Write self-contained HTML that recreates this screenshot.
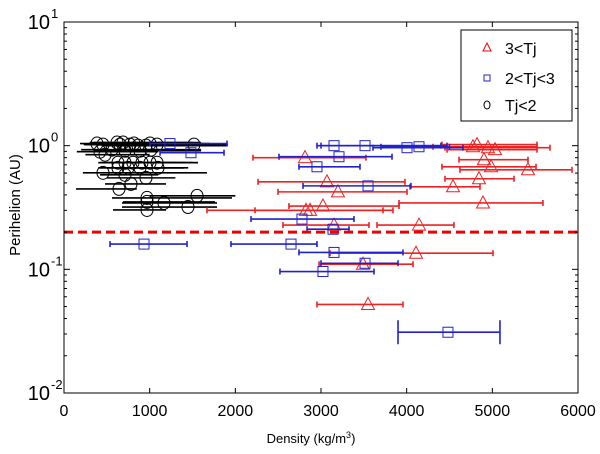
<!DOCTYPE html>
<html><head><meta charset="utf-8"><style>
body{margin:0;background:#fff;}
svg{display:block;font-family:"Liberation Sans",sans-serif;}
</style></head><body>
<svg id="chart" width="600" height="454">
<rect x="0" y="0" width="600" height="454" fill="#fff"/>
<g id="marks"></g>
<g id="axes"></g>
<g id="legend">
<rect x="461" y="30" width="111" height="91" fill="#fff" stroke="#000" stroke-width="1"/>
<g><polygon points="487,43 483,51 491,51" fill="none" stroke="#e00" stroke-width="1"/><text x="505" y="54" font-size="16">3&lt;Tj</text></g>
<g><rect x="484" y="75" width="6" height="6" fill="none" stroke="#22c" stroke-width="1"/><text x="505" y="84" font-size="16">2&lt;Tj&lt;3</text></g>
<g><ellipse cx="487" cy="105" rx="3" ry="4" fill="none" stroke="#000" stroke-width="1"/><text x="505" y="111" font-size="16">Tj&lt;2</text></g>
</g>
<text x="311" y="443" font-size="13" text-anchor="middle">Density (kg/m<tspan dy="-5" font-size="9">3</tspan><tspan dy="5">)</tspan></text>
<text transform="translate(20,205) rotate(-90)" font-size="15" text-anchor="middle">Perihelion (AU)</text>
</svg>
<script>
// Red: 3<Tj
const redDensity=[4774,4821,4949,5031,4902,4985,5416,4844,4541,4891,4144,2813,3070,3198,3023,2825,2872,3152,4109,3490,3549];
const redPeri=[0.98,1.02,0.963,0.928,0.77,0.675,0.638,0.54,0.465,0.344,0.228,0.8,0.51,0.423,0.325,0.30,0.30,0.228,0.135,0.11,0.052];
const redLo=[4307,4412,4447,4471,4611,4412,4622,4447,4039,3911,3654,2206,2265,2498,2626,1669,2230,2556,3105,2977,2953];
const redHi=[5521,5521,5673,5521,5416,5510,5930,5253,4856,5591,4552,3525,3980,4004,3911,3724,3840,3560,5008,4074,3957];
// Blue: 2<Tj<3
const blueDensity=[4482,934,2650,3152,3514,3023,3140,2778,3152,3514,4004,4144,3210,2953,3549,1237,1482];
const bluePeri=[0.031,0.16,0.16,0.137,0.112,0.096,0.211,0.255,1.0,1.0,0.963,0.98,0.814,0.675,0.473,1.04,0.877];
const blueLo=[3899,537,1949,2743,3000,2521,2837,2183,2953,3000,3607,3700,2510,2743,2790,1004,1121];
const blueHi=[5089,1436,2953,3957,3899,3619,3327,3385,4471,4400,4657,4500,3829,3455,4050,1903,1868];
// Black: Tj<2
const blackDensity=[385,455,619,654,689,770,817,864,957,1004,1086,1517,420,560,712,887,1016,479,630,712,805,910,1004,1086,630,747,887,1097,455,712,957,782,642,969,969,1167,1553,1447,969];
const blackPeri=[1.04,1.02,1.06,1.02,1.06,1.02,1.04,1.0,1.0,1.04,1.02,1.02,0.894,0.928,0.91,0.91,0.928,0.845,0.728,0.728,0.728,0.728,0.728,0.728,0.662,0.662,0.662,0.662,0.603,0.581,0.549,0.49,0.447,0.378,0.351,0.344,0.393,0.319,0.302];
const blackLo=[187,230,300,250,350,400,300,450,500,550,600,900,150,200,350,500,600,250,420,420,400,500,600,650,420,400,500,700,220,420,500,479,140,560,689,677,1000,677,572];
const blackHi=[1100,1300,1500,1400,1600,1700,1500,1800,1900,1700,1800,1914,1100,1300,1500,1600,1600,1000,1564,1564,1300,1400,1500,1500,1400,1200,1450,1400,1669,1100,1300,1191,850,1961,1763,1786,2000,1786,1191];
const xTicks=[0,1000,2000,3000,4000,5000,6000];
const yDecades=[-2,-1,0,1];
const threshold=0.2;

const L=64,R=578,T=22,B=393;
function xs(v){return L+v*(R-L)/6000;}
function ys(p){return B-(Math.log10(p)+2)*(B-T)/3;}
const NS="http://www.w3.org/2000/svg";
const marks=document.getElementById('marks');
const axes=document.getElementById('axes');
function mk(tag,attrs,parent){const e=document.createElementNS(NS,tag);for(const k in attrs)e.setAttribute(k,attrs[k]);parent.appendChild(e);return e;}

function series(d,p,lo,hi,color,shape,name,cap){
  const g=mk('g',{},marks);
  
  
  for(let i=0;i<d.length;i++){
    const y=ys(p[i]);
    const eb=mk('g',{stroke:color,'stroke-width':1.6,fill:'none'},g);
    
    
    mk('line',{x1:xs(lo[i]),x2:xs(hi[i]),y1:y,y2:y},eb);
    const c=(cap&&p[i]<0.05)?12:3;
    if(cap){mk('line',{x1:xs(lo[i]),x2:xs(lo[i]),y1:y-c,y2:y+c},eb);mk('line',{x1:xs(hi[i]),x2:xs(hi[i]),y1:y-c,y2:y+c},eb);}
  }
  for(let i=0;i<d.length;i++){
    const x=xs(d[i]),y=ys(p[i]);let m;
    if(shape==='tri')m=mk('polygon',{points:`${x},${y-7} ${x-6.5},${y+5} ${x+6.5},${y+5}`,fill:'none',stroke:color,'stroke-width':1},g);
    else if(shape==='sq')m=mk('rect',{x:x-5,y:y-5,width:10,height:10,fill:'none',stroke:color,'stroke-width':1},g);
    else m=mk('ellipse',{cx:x,cy:y,rx:6,ry:6.5,fill:'none',stroke:color,'stroke-width':1},g);
    
    
  }
}
series(blackDensity,blackPeri,blackLo,blackHi,'#000','circ','tj-lt-2',false);
series(redDensity,redPeri,redLo,redHi,'#e22','tri','tj-gt-3',true);
series(blueDensity,bluePeri,blueLo,blueHi,'#22c','sq','tj-2-3',true);

const th=mk('line',{x1:L,x2:R,y1:ys(threshold),y2:ys(threshold),stroke:'#e00','stroke-width':3,'stroke-dasharray':'9,5'},marks);



const frame=mk('rect',{x:L,y:T,width:R-L,height:B-T,fill:'none',stroke:'#000','stroke-width':1},axes);


xTicks.forEach(v=>{
  const x=xs(v);
  mk('line',{x1:x,x2:x,y1:B,y2:B-5,stroke:'#000'},axes);
  mk('line',{x1:x,x2:x,y1:T,y2:T+5,stroke:'#000'},axes);
  const t=mk('text',{x:x,y:416,'font-size':16,'text-anchor':'middle'},axes);
  t.textContent=v;
  
  
});
yDecades.forEach(k=>{
  const y=ys(Math.pow(10,k));
  mk('line',{x1:L,x2:L+6,y1:y,y2:y,stroke:'#000'},axes);
  mk('line',{x1:R,x2:R-6,y1:y,y2:y,stroke:'#000'},axes);
  if(k<1){for(let m=2;m<10;m++){const yy=ys(m*Math.pow(10,k));mk('line',{x1:L,x2:L+3,y1:yy,y2:yy,stroke:'#000'},axes);mk('line',{x1:R,x2:R-3,y1:yy,y2:yy,stroke:'#000'},axes);}}
  const t=mk('text',{x:50,y:y+7,'font-size':20,'text-anchor':'end'},axes);
  t.textContent='10';
  
  
  const s=mk('text',{x:51,y:y-4,'font-size':13},axes);
  s.textContent=String(k);
});
</script>
</body></html>
